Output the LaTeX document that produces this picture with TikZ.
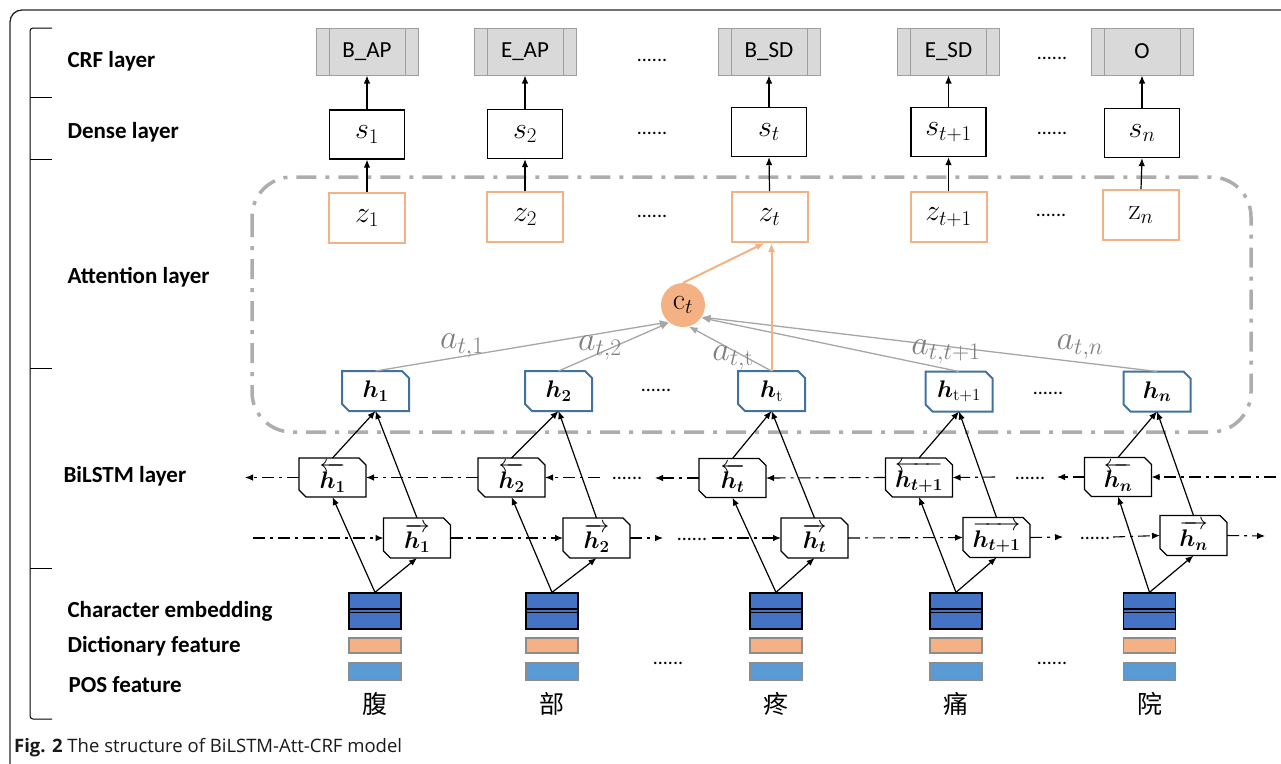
\RequirePackage{fix-cm}
\documentclass[tikz,border=0pt]{standalone}
\usepackage{amsmath,bm}
\usepackage[no-math]{fontspec}
\setmainfont{Carlito}
\newfontfamily\capfont{Open Sans}
\newfontfamily\cjk{Noto Sans CJK SC}
\usetikzlibrary{arrows.meta}
\definecolor{crffill}{HTML}{D9D9D9}
\definecolor{crfedge}{HTML}{9E9E9E}
\definecolor{orng}{HTML}{F4B183}
\definecolor{hblue}{HTML}{41719C}
\definecolor{embdark}{HTML}{4472C4}
\definecolor{posblue}{HTML}{5B9BD5}
\definecolor{featedge}{HTML}{8C8C8C}
\definecolor{attgray}{HTML}{A6A6A6}
\definecolor{lblgray}{HTML}{7F7F7F}
\definecolor{framegray}{HTML}{ADADAD}
\newcommand\myfs[1]{\fontsize{#1}{#1}\selectfont}
\newcommand\chamf[3]{%
  \draw[#2, line width=#3, line join=miter] (#1.north west) -- ([xshift=-7pt]#1.north east) -- ([yshift=-7pt]#1.north east) -- (#1.south east) -- ([xshift=7pt]#1.south west) -- ([yshift=7pt]#1.south west) -- cycle;}
\begin{document}
\begin{tikzpicture}[x=1pt,y=-1pt,
  lab/.style={anchor=west, font=\myfs{23}\bfseries},
  crfbox/.style={draw=crfedge, fill=crffill, line width=1pt, minimum width=102pt, minimum height=47pt, inner sep=0pt, font=\myfs{23},
    path picture={\draw[crfedge, line width=1pt] ([xshift=13pt]path picture bounding box.north west) -- ([xshift=13pt]path picture bounding box.south west) ([xshift=-13pt]path picture bounding box.north east) -- ([xshift=-13pt]path picture bounding box.south east);}},
  densebox/.style={draw=black, line width=1.2pt, minimum width=75pt, minimum height=49pt, inner sep=0pt, font=\myfs{30}},
  zbox/.style={draw=orng, line width=2pt, minimum width=76pt, minimum height=50pt, inner sep=0pt, font=\myfs{30}},
  hbox/.style={minimum width=67pt, minimum height=40pt, inner sep=0pt, outer sep=0pt, font=\myfs{24}},
  lbox/.style={minimum width=67pt, minimum height=39pt, inner sep=0pt, outer sep=0pt, font=\myfs{24}},
  embbox/.style={draw=black, fill=embdark, line width=1.3pt, minimum width=52pt, minimum height=36pt, inner sep=0pt,
    path picture={\draw[black, line width=1.1pt] ([yshift=2pt]path picture bounding box.west) -- ([yshift=2pt]path picture bounding box.east) ([yshift=-1.5pt]path picture bounding box.west) -- ([yshift=-1.5pt]path picture bounding box.east);}},
  dictbox/.style={draw=featedge, fill=orng, line width=1.2pt, minimum width=52pt, minimum height=15pt, inner sep=0pt},
  posbox/.style={draw=featedge, fill=posblue, line width=1.2pt, minimum width=52pt, minimum height=17pt, inner sep=0pt},
  dots/.style={anchor=base, font=\myfs{20}, inner sep=0pt},
  lstm/.style={draw=black, line width=1.1pt, dash pattern=on 12pt off 5pt on 3pt off 5pt, -{Latex[length=8pt,width=6.5pt]}},
  att/.style={draw=attgray, line width=1.3pt, -{Latex[length=9pt,width=7pt]}},
  alab/.style={text=lblgray, font=\myfs{34}, inner sep=0pt},
  orarr/.style={draw=orng, line width=2pt, -{Latex[length=9pt,width=7pt]}},
  blk/.style={draw=black, line width=1.2pt, -{Latex[length=8pt,width=6.5pt]}}
]
\useasboundingbox (0,0) rectangle (1281,763);
% outer frame
\draw[line width=1.3pt, black!85, rounded corners=12pt] (1300,10) -- (10,10) -- (10,790);
% left bracket
\draw[line width=1pt, rounded corners=3pt] (52,28) -- (30,28) -- (30,719) -- (52,719);
\foreach \yy in {97,159,368,568} \draw[line width=1pt] (30,\yy) -- (52,\yy);
% layer labels
\node[lab] (lcrf) at (64,61) {CRF layer};
\node[lab] (ldense) at (64,132) {Dense layer};
\node[lab] (latt) at (64,277) {Attention layer};
\node[lab] (lbil) at (60,476) {BiLSTM layer};
\node[lab] (lchar) at (64,611) {Character embedding};
\node[lab] (ldict) at (64,646) {Dictionary feature};
\node[lab] (lpos) at (65,685) {POS feature};
% attention frame
\draw[framegray, line width=3.5pt, dash pattern=on 20pt off 9pt on 4pt off 9pt, rounded corners=40pt] (252,177) rectangle (1251,432);
% CRF boxes
\node[crfbox] (c1) at (367,51.5) {B\_AP};
\node[crfbox] (c2) at (525,51.5) {E\_AP};
\node[crfbox] (c3) at (769,51.5) {B\_SD};
\node[crfbox] (c4) at (948.5,51.5) {E\_SD};
\node[crfbox] (c5) at (1142,51.5) {O};
% dense
\node[densebox] (s1) at (367,134.5) {$s_1$};
\node[densebox] (s2) at (525,134) {$s_2$};
\node[densebox] (s3) at (769,132) {$s_t$};
\node[densebox] (s4) at (948.5,132) {$s_{t+1}$};
\node[densebox] (s5) at (1142,133) {$s_n$};
% z
\node[zbox] (z1) at (367,218) {$z_1$};
\node[zbox] (z2) at (525,217) {$z_2$};
\node[zbox] (z3) at (769.5,217) {$z_t$};
\node[zbox] (z4) at (948.5,217) {$z_{t+1}$};
\node[zbox] (z5) at (1141,215) {$\mathrm{z}_n$};
% dots
\node[dots] (d1) at (652,61) {......};
\node[dots] (d2) at (1052,59) {......};
\node[dots] (d3) at (652,134) {......};
\node[dots] (d4) at (1052,134) {......};
\node[dots] (d5) at (652,217) {......};
\node[dots] (d6) at (1051,216) {......};
\node[dots] (d7) at (656,391) {......};
\node[dots] (d8) at (1048,394) {......};
\node[dots] (d9) at (668,664) {......};
\node[dots] (d10) at (1052,664) {......};
% c_t
\node[circle, fill=orng, minimum size=44pt, inner sep=0pt, font=\myfs{30}] (ct) at (683,305) {$\mathrm{c}_t$};
% h boxes
\node[hbox] (h1) at (375.5,391) {$\bm{h_1}$};
\node[hbox] (h2) at (558.5,391) {$\bm{h_2}$};
\node[hbox] (h3) at (771.5,391) {$\bm{h}_{\mathrm{t}}$};
\node[hbox] (h4) at (959,391.5) {$\bm{h}_{\mathrm{t+1}}$};
\node[hbox] (h5) at (1157,391.5) {$\bm{h_n}$};
\foreach \n in {h1,h2,h3,h4,h5} {\chamf{\n}{hblue}{2pt}}
% backward
\node[lbox] (b1) at (332.5,477.5) {$\overleftarrow{\bm{h_1}}$};
\node[lbox] (b2) at (511.5,477.5) {$\overleftarrow{\bm{h_2}}$};
\node[lbox] (b3) at (732.5,478) {$\overleftarrow{\bm{h_t}}$};
\node[lbox] (b4) at (919,477.5) {$\overleftarrow{\bm{h_{t+1}}}$};
\node[lbox] (b5) at (1118,477) {$\overleftarrow{\bm{h_n}}$};
% forward
\node[lbox, minimum height=40pt] (f1) at (417,538) {$\overrightarrow{\bm{h_1}}$};
\node[lbox, minimum height=40pt] (f2) at (596.5,538) {$\overrightarrow{\bm{h_2}}$};
\node[lbox, minimum height=40pt] (f3) at (814.5,538) {$\overrightarrow{\bm{h_t}}$};
\node[lbox, minimum height=40pt] (f4) at (996.5,537.5) {$\overrightarrow{\bm{h_{t+1}}}$};
\node[lbox, minimum height=40pt] (f5) at (1193.5,535.5) {$\overrightarrow{\bm{h_n}}$};
\foreach \n in {b1,b2,b3,b4,b5,f1,f2,f3,f4,f5} {\chamf{\n}{black}{1.3pt}}
% embeddings
\foreach \i/\xx/\ch in {1/375/腹,2/552/部,3/776/疼,4/956/痛,5/1149.5/院} {
  \node[embbox] (e\i) at (\xx,611) {};
  \node[dictbox] (dc\i) at (\xx,645.5) {};
  \node[posbox] (p\i) at (\xx,671.5) {};
  \node[font=\cjk\myfs{25}, inner sep=0pt] (w\i) at (\xx,704) {\ch};
}
% CRF/dense/z arrows
\foreach \i in {1,...,5} {
  \draw[blk] (s\i.north) -- (c\i.south);
  \draw[blk] (z\i.north) -- (s\i.south);
}
% embedding to LSTM, LSTM to h
\foreach \i in {1,...,5} {
  \draw[blk] (e\i.north) -- (b\i.south);
  \draw[blk] (e\i.north) -- (f\i.south);
  \draw[blk] (b\i.north) -- (h\i.south);
  \draw[blk] (f\i.north) -- (h\i.south);
}
% backward chain
\coordinate (bl0) at (245,477.5);
\coordinate (bm1) at (600,477.5);
\coordinate (bm2) at (655,478);
\coordinate (bm3) at (995,477);
\coordinate (bm4) at (1057,477);
\coordinate (br) at (1276,477);
\draw[lstm] (b1.west) -- (bl0);
\draw[lstm] (b2.west) -- (b1.east);
\draw[lstm] (bm1) -- (b2.east);
\node[dots] (bd1) at (627,479.5) {......};
\draw[lstm] (b3.west) -- (bm2);
\draw[lstm] (b4.west) -- (b3.east);
\draw[lstm] (bm3) -- (b4.east);
\node[dots] (bd2) at (1030,479) {......};
\draw[lstm] (b5.west) -- (bm4);
\draw[lstm] (br) -- (b5.east);
% forward chain
\coordinate (fl0) at (253,538);
\coordinate (fm1) at (663,538);
\coordinate (fm2) at (712,538);
\coordinate (fm3) at (1063,537);
\coordinate (fm4) at (1113,537);
\coordinate (fr) at (1265,536);
\draw[lstm] (fl0) -- (f1.west);
\draw[lstm] (f1.east) -- (f2.west);
\draw[lstm] (f2.east) -- (fm1);
\node[dots] (fd1) at (692,540) {......};
\draw[lstm] (fm2) -- (f3.west);
\draw[lstm] (f3.east) -- (f4.west);
\draw[lstm] (f4.east) -- (fm3);
\node[dots] (fd2) at (1095,539) {......};
\draw[lstm] (fm4) -- (f5.west);
\draw[lstm] (f5.east) -- (fr);
% attention arrows
\draw[att] (h1.north) -- (ct.230);
\draw[att] (h2.north) -- (ct.232);
\draw[att] (h3.north) -- (ct.285);
\draw[att] (h4.north) -- (ct.325);
\draw[att] (h5.north) -- (ct.327);
\node[alab] (a1) at (462,346) {$a_{t,1}$};
\node[alab] (a2) at (600,348) {$a_{t,2}$};
\node[alab] (a3) at (733,358) {$a_{t,\mathrm{t}}$};
\node[alab] (a4) at (946,352) {$a_{t,t+1}$};
\node[alab] (a5) at (1080,347) {$a_{t,n}$};
% orange arrows
\draw[orarr] (ct.north) -- ([xshift=-5pt]z3.south);
\draw[orarr] (h3.north) -- (h3.north |- z3.south);
% caption
\node[anchor=base west, font=\capfont\myfs{18.5}, text=black!90, inner sep=0pt] (cap) at (14,752) {\textbf{Fig. 2} The structure of BiLSTM-Att-CRF model};
\end{tikzpicture}
\end{document}
